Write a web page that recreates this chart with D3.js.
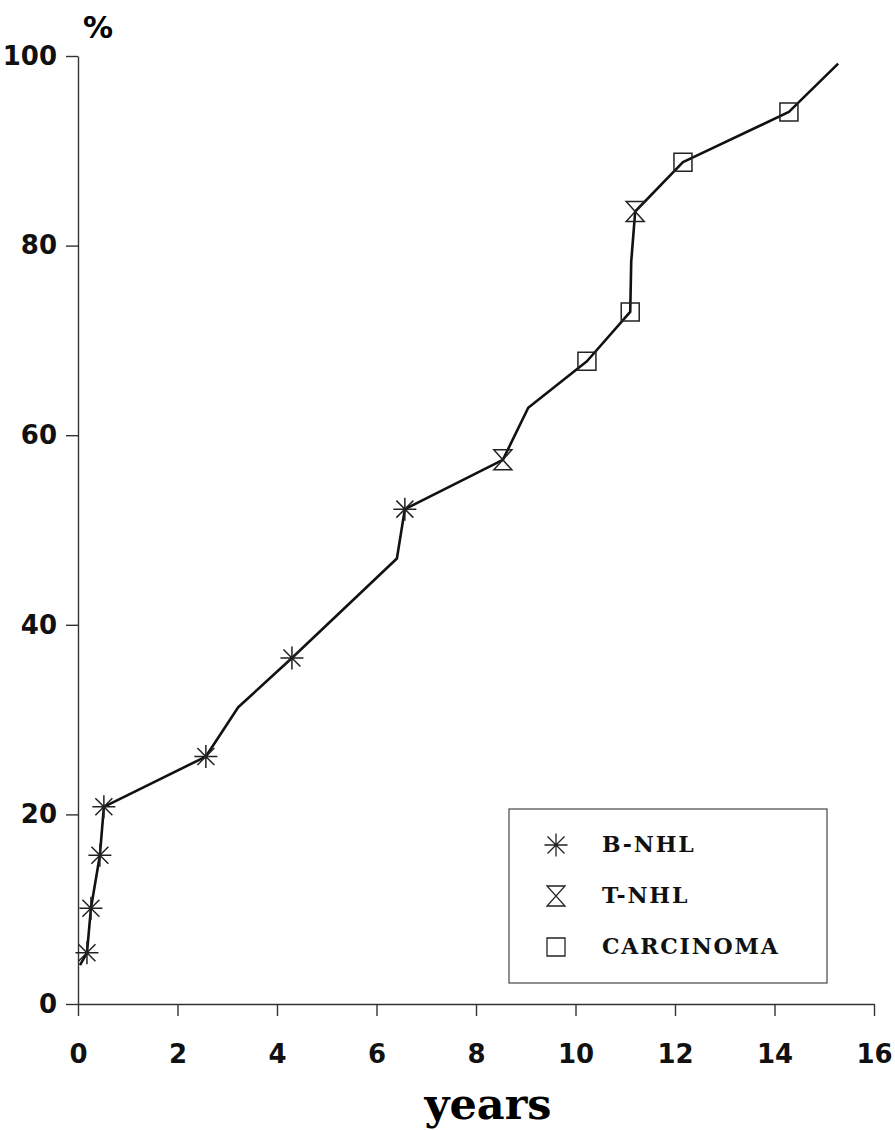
<!DOCTYPE html>
<html>
<head>
<meta charset="utf-8">
<script src="https://cdn.jsdelivr.net/npm/d3@7"></script>
<style>
  body { margin: 0; background: #fff; }
  .axis path, .axis line { stroke: #333; stroke-width: 1.4; }
  .axis text { font-family: "DejaVu Sans", sans-serif; font-weight: bold; font-size: 26px; fill: #111; }
  .legtext { font-family: "DejaVu Serif", serif; font-weight: bold; font-size: 22px; letter-spacing: 1.8px; fill: #111; }
</style>
</head>
<body>
<div id="chart"></div>
<script>
// values
var xTicks = [0, 2, 4, 6, 8, 10, 12, 14, 16];
var yTicks = [0, 20, 40, 60, 80, 100];

// the connecting line (all vertices, marked or not)
var pathYears = [0.04, 0.18, 0.26, 0.44, 0.52, 2.57, 3.22, 4.30, 6.41, 6.57, 8.54, 9.05, 10.23, 11.10, 11.12, 11.20, 12.16, 14.29, 15.28];
var pathPct   = [4.1, 5.4, 10.1, 15.7, 20.8, 26.1, 31.3, 36.5, 47.0, 52.2, 57.4, 62.9, 67.8, 73.0, 78.3, 83.6, 88.8, 94.1, 99.2];

// marked points per diagnosis
var bnhlYears = [0.18, 0.26, 0.44, 0.52, 2.57, 4.30, 6.57];
var bnhlPct   = [5.4, 10.1, 15.7, 20.8, 26.1, 36.5, 52.2];
var tnhlYears = [8.54, 11.20];
var tnhlPct   = [57.4, 83.6];
var carcYears = [10.23, 11.10, 12.16, 14.29];
var carcPct   = [67.8, 73.0, 88.8, 94.1];

var legendLabels = ["B-NHL", "T-NHL", "CARCINOMA"];

var width = 895, height = 1130;
var margin = {top: 56, right: 21, bottom: 126, left: 78};

var svg = d3.select("#chart").append("svg")
    .attr("width", width)
    .attr("height", height);

var xScale = d3.scaleLinear().domain([0, 16]).range([margin.left, width - margin.right]);
var yScale = d3.scaleLinear().domain([0, 100]).range([height - margin.bottom, margin.top]);

// axes
svg.append("g")
    .attr("class", "axis x")
    .attr("transform", "translate(0," + yScale(0) + ")")
    .call(d3.axisBottom(xScale).tickValues(xTicks).tickSize(12).tickSizeOuter(0).tickPadding(29));

svg.append("g")
    .attr("class", "axis y")
    .attr("transform", "translate(" + xScale(0) + ",0)")
    .call(d3.axisLeft(yScale).tickValues(yTicks).tickSize(12).tickSizeOuter(0).tickPadding(9));

// axis titles
svg.append("text")
    .attr("x", xScale(0) + 5)
    .attr("y", 38)
    .style("font-family", "DejaVu Sans, sans-serif")
    .style("font-weight", "bold")
    .style("font-size", "30px")
    .text("%");

svg.append("text")
    .attr("x", 488)
    .attr("y", 1119)
    .attr("text-anchor", "middle")
    .style("font-family", "DejaVu Serif, serif")
    .style("font-weight", "bold")
    .style("font-size", "43px")
    .text("years");

// line
var pathData = pathYears.map(function(d, i) { return [d, pathPct[i]]; });
var line = d3.line()
    .x(function(d) { return xScale(d[0]); })
    .y(function(d) { return yScale(d[1]); });

svg.append("path")
    .datum(pathData)
    .attr("d", line)
    .attr("fill", "none")
    .attr("stroke", "#111")
    .attr("stroke-width", 2.6)
    .attr("stroke-linejoin", "round");

// marker shapes
var symbolPaths = {
    "B-NHL": "M-11.5,0H11.5M0,-11.5V11.5M-8.5,-8.5L8.5,8.5M-8.5,8.5L8.5,-8.5",
    "T-NHL": "M-9,-10H9L-9,10H9Z",
    "CARCINOMA": "M-9,-9H9V9H-9Z"
};

function drawMarkers(years, pct, kind) {
    svg.selectAll(".m-" + kind)
        .data(years.map(function(d, i) { return [d, pct[i]]; }))
        .enter().append("path")
        .attr("class", "m-" + kind)
        .attr("transform", function(d) { return "translate(" + xScale(d[0]) + "," + yScale(d[1]) + ")"; })
        .attr("d", symbolPaths[kind])
        .attr("fill", "none")
        .attr("stroke", "#222")
        .attr("stroke-width", 1.5);
}
drawMarkers(bnhlYears, bnhlPct, "B-NHL");
drawMarkers(tnhlYears, tnhlPct, "T-NHL");
drawMarkers(carcYears, carcPct, "CARCINOMA");

// legend
var legend = svg.append("g").attr("transform", "translate(509,809)");
legend.append("rect")
    .attr("width", 318)
    .attr("height", 174)
    .attr("fill", "none")
    .attr("stroke", "#444")
    .attr("stroke-width", 1.2);

var rows = legend.selectAll(".legrow")
    .data(legendLabels)
    .enter().append("g")
    .attr("class", "legrow")
    .attr("transform", function(d, i) { return "translate(47," + (36 + i * 51) + ")"; });

rows.append("path")
    .attr("d", function(d) { return symbolPaths[d]; })
    .attr("fill", "none")
    .attr("stroke", "#222")
    .attr("stroke-width", 1.3);

rows.append("text")
    .attr("class", "legtext")
    .attr("x", 46)
    .attr("y", 7)
    .text(function(d) { return d; });
</script>
</body>
</html>
